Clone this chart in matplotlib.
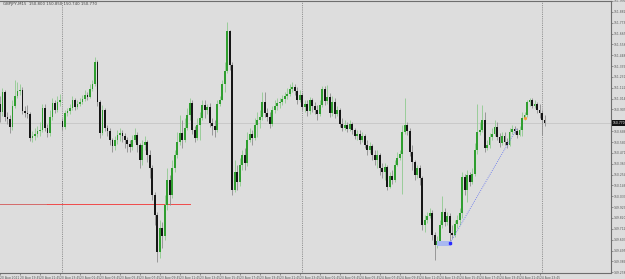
import pandas as pd
import matplotlib.pyplot as plt
from matplotlib.patches import Rectangle

# GBPJPY M15 candles, 20 Aug 2021 17:45 -> 25 Aug 2021 00:15
symbol = "GBPJPY,M15"
first_open = 150.96
monday_open = 150.79   # weekend gap open (bar 25)

closes = [
    150.88, 151.08, 150.83, 150.81, 150.73, 150.94, 151.04, 151.09, 151.10, 150.89,
    150.87, 150.86, 150.62, 150.64, 150.66, 150.69, 150.70, 150.92, 150.72, 150.67,
    150.83, 150.97, 150.90, 150.98, 151.00, 150.73, 150.87, 150.89, 150.92, 151.00,
    150.93, 150.96, 150.98, 151.01, 151.05, 151.03, 151.11, 151.16, 151.38, 150.98,
    150.67, 150.90, 150.72, 150.69, 150.60, 150.54, 150.60, 150.65, 150.67, 150.64,
    150.60, 150.56, 150.53, 150.60, 150.65, 150.55, 150.40, 150.55, 150.58, 150.45,
    150.32, 150.05, 149.85, 149.48, 149.72, 149.64, 149.95, 150.20, 150.05, 150.32,
    150.45, 150.58, 150.67, 150.60, 150.72, 150.85, 150.97, 150.70, 150.62, 150.75,
    150.82, 150.95, 150.90, 150.93, 150.77, 150.74, 150.70, 150.96, 151.00, 151.16,
    151.29, 151.69, 151.35, 150.10, 150.28, 150.18, 150.35, 150.45, 150.37, 150.60,
    150.66, 150.62, 150.75, 150.80, 150.83, 150.98, 150.87, 150.83, 150.76, 150.90,
    150.94, 150.97, 150.98, 151.01, 151.04, 151.06, 151.11, 151.13, 151.09, 151.00,
    151.05, 150.93, 150.96, 150.89, 151.00, 150.94, 150.90, 150.86, 150.95, 151.11,
    150.99, 151.03, 150.87, 150.98, 150.86, 150.90, 150.76, 150.72, 150.75, 150.71,
    150.76, 150.70, 150.64, 150.66, 150.60, 150.64, 150.55, 150.50, 150.54, 150.45,
    150.40, 150.45, 150.32, 150.28, 150.33, 150.13, 150.24, 150.20, 150.35, 150.42,
    150.46, 150.68, 150.75, 150.69, 150.48, 150.38, 150.25, 150.32, 150.22, 149.75,
    149.80, 149.84, 149.87, 149.65, 149.55, 149.59, 149.75, 149.88, 149.78, 149.84,
    149.67, 149.65, 149.76, 149.80, 149.87, 150.23, 150.10, 150.25, 150.18, 150.26,
    150.50, 150.68, 150.70, 150.80, 150.52, 150.55, 150.63, 150.66, 150.73, 150.63,
    150.57, 150.64, 150.58, 150.55, 150.68, 150.71, 150.69, 150.65, 150.70, 150.82,
    150.85, 150.98, 151.00, 150.94, 150.96, 150.90, 150.87, 150.80, 150.77,
]

highs = [
    151.04, 151.12, 151.10, 150.88, 150.85, 151.00, 151.20, 151.18, 151.16, 151.13,
    150.94, 150.95, 150.88, 150.69, 150.72, 150.74, 150.78, 150.96, 150.96, 150.76,
    150.90, 151.02, 151.00, 151.04, 151.06, 150.82, 150.90, 150.92, 150.96, 151.04,
    151.02, 151.00, 151.02, 151.05, 151.10, 151.08, 151.16, 151.20, 151.43, 151.40,
    151.00, 150.95, 150.92, 150.75, 150.72, 150.62, 150.64, 150.70, 150.72, 150.70,
    150.67, 150.63, 150.60, 150.65, 150.72, 150.68, 150.57, 150.60, 150.64, 150.60,
    150.50, 150.35, 150.08, 149.88, 149.80, 149.78, 150.05, 150.32, 150.25, 150.40,
    150.50, 150.68, 150.85, 150.80, 150.82, 150.92, 151.02, 151.00, 150.74, 150.82,
    150.88, 151.00, 151.00, 150.96, 150.97, 150.82, 150.80, 151.00, 151.04, 151.20,
    151.38, 151.78, 151.70, 151.38, 150.40, 150.35, 150.42, 150.50, 150.52, 150.68,
    150.72, 150.70, 150.82, 150.88, 150.90, 151.08, 151.08, 150.92, 150.88, 150.94,
    151.00, 151.02, 151.02, 151.05, 151.08, 151.12, 151.16, 151.18, 151.16, 151.13,
    151.10, 151.08, 151.00, 151.00, 151.03, 151.02, 150.98, 150.95, 151.00, 151.14,
    151.14, 151.15, 151.07, 151.04, 151.02, 150.94, 150.92, 150.82, 150.80, 150.78,
    150.80, 150.78, 150.72, 150.70, 150.70, 150.68, 150.66, 150.60, 150.58, 150.56,
    150.50, 150.50, 150.47, 150.37, 150.37, 150.35, 150.28, 150.30, 150.40, 150.48,
    150.50, 150.75, 151.02, 150.78, 150.72, 150.55, 150.40, 150.35, 150.35, 150.24,
    149.85, 149.88, 149.92, 149.90, 149.68, 149.64, 149.80, 150.04, 149.92, 149.88,
    149.87, 149.75, 149.80, 149.85, 149.92, 150.28, 150.26, 150.30, 150.28, 150.32,
    150.57, 150.96, 150.78, 150.95, 150.88, 150.60, 150.67, 150.72, 150.80, 150.78,
    150.67, 150.68, 150.68, 150.62, 150.72, 150.75, 150.74, 150.72, 150.74, 150.88,
    150.88, 151.00, 151.02, 151.02, 151.00, 150.98, 150.96, 150.90, 150.85,
]

lows = [
    150.78, 150.84, 150.79, 150.76, 150.67, 150.70, 150.92, 151.02, 151.05, 150.86,
    150.83, 150.82, 150.59, 150.58, 150.60, 150.63, 150.64, 150.68, 150.69, 150.63,
    150.64, 150.80, 150.87, 150.88, 150.94, 150.70, 150.71, 150.84, 150.86, 150.90,
    150.90, 150.91, 150.94, 150.96, 150.99, 151.00, 151.02, 151.09, 151.14, 150.94,
    150.62, 150.65, 150.69, 150.64, 150.55, 150.48, 150.50, 150.56, 150.59, 150.58,
    150.52, 150.48, 150.48, 150.50, 150.58, 150.48, 150.32, 150.35, 150.50, 150.38,
    150.22, 150.00, 149.75, 149.38, 149.42, 149.52, 149.60, 149.90, 149.95, 150.02,
    150.28, 150.42, 150.55, 150.52, 150.58, 150.70, 150.80, 150.66, 150.58, 150.60,
    150.60, 150.80, 150.82, 150.86, 150.73, 150.65, 150.63, 150.68, 150.94, 151.00,
    151.08, 151.27, 151.30, 150.05, 150.08, 150.10, 150.14, 150.30, 150.30, 150.34,
    150.58, 150.55, 150.60, 150.63, 150.72, 150.80, 150.83, 150.79, 150.72, 150.74,
    150.87, 150.90, 150.92, 150.95, 150.97, 151.01, 151.04, 151.08, 151.05, 150.96,
    150.98, 150.90, 150.88, 150.84, 150.86, 150.88, 150.86, 150.80, 150.84, 150.93,
    150.95, 150.96, 150.83, 150.84, 150.82, 150.84, 150.73, 150.69, 150.70, 150.68,
    150.69, 150.66, 150.61, 150.60, 150.56, 150.58, 150.52, 150.45, 150.47, 150.40,
    150.35, 150.32, 150.25, 150.22, 150.20, 150.10, 150.12, 150.16, 150.18, 150.34,
    150.40, 150.06, 150.66, 150.65, 150.44, 150.30, 150.20, 150.22, 150.15, 149.70,
    149.68, 149.77, 149.82, 149.60, 149.40, 149.52, 149.57, 149.72, 149.74, 149.75,
    149.55, 149.62, 149.63, 149.72, 149.75, 149.82, 150.05, 149.98, 150.14, 150.16,
    150.24, 150.46, 150.65, 150.68, 150.48, 150.50, 150.52, 150.60, 150.64, 150.60,
    150.53, 150.55, 150.55, 150.52, 150.54, 150.66, 150.66, 150.62, 150.64, 150.64,
    150.80, 150.83, 150.94, 150.92, 150.92, 150.87, 150.82, 150.65, 150.74,
]

opens = [first_open] + closes[:-1]
opens[25] = monday_open

times = list(pd.date_range("2021-08-20 17:45", periods=25, freq="15min")) + \
        list(pd.date_range("2021-08-23 00:00", periods=len(closes) - 25, freq="15min"))

# objects drawn on the chart
support_level = 149.96
zone_bars = (175.0, 180.6)
zone_prices = (149.54, 149.59)
trend_start = (180.2, 149.57)
trend_end = (207.0, 150.72)
marker_point = (210.0, 150.82)

W, H = 625, 279
BG = "#dddddd"
fig = plt.figure(figsize=(W / 100, H / 100), dpi=100, facecolor=BG)
ax = fig.add_axes([0, 6 / H, 611 / W, 272 / H], facecolor=BG)

y_top, y_bot = 151.99, 149.27
ax.set_xlim(0.2, 244.6)
ax.set_ylim(y_bot, y_top)

# candles
for i in range(len(closes)):
    o, c, hi, lo = opens[i], closes[i], highs[i], lows[i]
    bull = c >= o
    wick = "#8fcb8f" if bull else "#8c8c8c"
    body = "#2f9e2f" if bull else "#161616"
    ax.vlines(i, lo, hi, color=wick, lw=0.6, zorder=2)
    ax.bar(i, max(abs(c - o), 0.008), bottom=min(o, c), width=0.72,
           color=body, linewidth=0, zorder=3)

# day separators
for i, t in enumerate(times):
    if i > 0 and t.day != times[i - 1].day:
        ax.axvline(i, color="#7a7a7a", lw=0.6, ls=(0, (1, 1.2)), zorder=1)

# last price line
ax.axhline(closes[-1], color="#c6c6c6", lw=0.6, zorder=1)

# red horizontal level
ax.plot([0.2, 19], [support_level, support_level], color="#d46a6a", lw=0.7, zorder=1)
ax.plot([19, 76.2], [support_level, support_level], color="#f04a4a", lw=0.7, zorder=1)

# blue zone + dotted trend line
ax.add_patch(Rectangle((zone_bars[0], zone_prices[0]), zone_bars[1] - zone_bars[0],
                       zone_prices[1] - zone_prices[0], facecolor="#a9b8f0",
                       edgecolor="none", zorder=4))
ax.plot([trend_start[0], trend_end[0]], [trend_start[1], trend_end[1]],
        color="#5a6cf0", lw=0.6, ls=(0, (1, 1.5)), zorder=4)
ax.plot(*trend_start, marker="s", ms=1.5, color="#2a2aff", zorder=5)
ax.plot(*marker_point, marker="o", ms=1.3, color="#f0a040", zorder=5)

# axes frame
ax.spines["left"].set_visible(False)
for s in ["right", "bottom", "top"]:
    ax.spines[s].set_color("#6e6e6e")
    ax.spines[s].set_linewidth(0.8)

# price scale (the label under the price box is left out)
step = (y_top - y_bot) / 25.07
price_ticks = [y_top - k * step for k in range(26)]
ax.yaxis.tick_right()
ax.set_yticks(price_ticks)
ax.set_yticklabels(["" if abs(p - closes[-1]) < step * 0.6 else f"{p:.3f}"
                    for p in price_ticks])
ax.tick_params(axis="y", length=1.2, width=0.5, color="#6e6e6e", pad=0.4,
               labelsize=2.2, labelcolor="#555555")

# time scale
tick_idx = list(range(0, len(times), 8))
labels = [times[0].strftime("%d %b %Y")] + [times[i].strftime("%d %b %H:%M") for i in tick_idx[1:]]
ax.set_xticks(tick_idx)
ax.set_xticklabels(labels, ha="left")
ax.tick_params(axis="x", length=1.5, width=0.5, color="#6e6e6e", pad=0.6,
               labelsize=2.2, labelcolor="#555555")

# current price box
last_y = 1 - (1 + (y_top - closes[-1]) / (y_top - y_bot) * 272) / H
fig.text(612.6 / W, last_y, f"{closes[-1]:.3f}", fontsize=2.2, color="white",
         va="center", ha="left",
         bbox=dict(boxstyle="square,pad=0.2", facecolor="#111111", edgecolor="none"))

# header
fig.text(3 / W, 1 - 4.5 / H,
         f"{symbol}  {opens[-1]:.3f} {highs[-1]:.3f} {lows[-1]:.3f} {closes[-1]:.3f}",
         fontsize=2.8, color="#444444", va="center", ha="left")

fig.savefig("out.png", dpi=100, facecolor=BG)
